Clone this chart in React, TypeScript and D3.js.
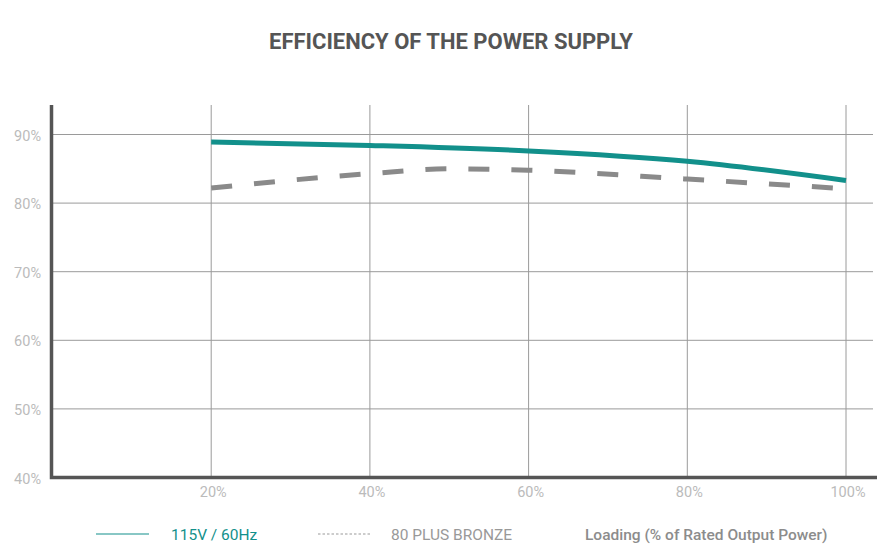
import * as d3 from "d3";
import React, { useRef, useEffect } from "react";

const mainWidth = 892;
const mainHeight = 554;

// readings (load % -> efficiency %)
const loadTicks = [20, 40, 60, 80, 100];
const effTicks = [40, 50, 60, 70, 80, 90];

const psuLoads = [20, 40, 60, 80, 100];
const psuEff = [88.9, 88.4, 87.6, 86.1, 83.3];

const bronzeLoads = [20, 40, 50, 60, 80, 100];
const bronzeEff = [82.2, 84.3, 85.0, 84.8, 83.5, 82.1];

const title = "EFFICIENCY OF THE POWER SUPPLY";
const psuLabel = "115V / 60Hz";
const bronzeLabel = "80 PLUS BRONZE";
const xTitle = "Loading (% of Rated Output Power)";

const teal = "#12908b";
const font = "Roboto, 'Noto Sans', sans-serif";

function App() {
  const ref = useRef<SVGSVGElement>(null);

  useEffect(() => {
    const svg = d3.select(ref.current);
    svg.selectAll("*").remove();

    const x = d3.scaleLinear().domain([0, 100]).range([52.5, 846]);
    const y = d3.scaleLinear().domain([40, 90]).range([477.5, 134.5]);
    const top = 105;

    svg
      .append("text")
      .attr("x", 451)
      .attr("y", 49)
      .attr("text-anchor", "middle")
      .attr("font-family", font)
      .attr("font-weight", 700)
      .attr("font-size", 22)
      .attr("fill", "#555")
      .text(title);

    // grid
    const grid = svg.append("g").attr("stroke", "#9a9a9a").attr("stroke-width", 1);
    grid
      .selectAll(".hgrid")
      .data(effTicks.slice(1))
      .join("line")
      .attr("x1", 52)
      .attr("x2", 873)
      .attr("y1", (d) => y(d))
      .attr("y2", (d) => y(d));
    grid
      .selectAll(".vgrid")
      .data(loadTicks)
      .join("line")
      .attr("x1", (d) => x(d))
      .attr("x2", (d) => x(d))
      .attr("y1", top)
      .attr("y2", y(40));

    // axes
    svg
      .append("path")
      .attr("d", `M51.5,${top}V${y(40)}H877`)
      .attr("fill", "none")
      .attr("stroke", "#555")
      .attr("stroke-width", 3.5);

    svg
      .append("g")
      .selectAll("text")
      .data(effTicks)
      .join("text")
      .attr("x", 41)
      .attr("y", (d) => y(d) + 1)
      .attr("dy", "0.35em")
      .attr("text-anchor", "end")
      .attr("font-family", font)
      .attr("font-size", 14.5)
      .attr("fill", "#bbb")
      .text((d) => `${d}%`);

    svg
      .append("g")
      .selectAll("text")
      .data(loadTicks)
      .join("text")
      .attr("x", (d) => x(d) + 2)
      .attr("y", 497)
      .attr("text-anchor", "middle")
      .attr("font-family", font)
      .attr("font-size", 14.5)
      .attr("fill", "#bbb")
      .text((d) => `${d}%`);

    const line = d3
      .line<number>()
      .curve(d3.curveMonotoneX);

    svg
      .append("path")
      .attr(
        "d",
        line.x((_, i) => x(bronzeLoads[i])).y((d) => y(d))(bronzeEff)
      )
      .attr("fill", "none")
      .attr("stroke", "#8a8a8a")
      .attr("stroke-width", 5)
      .attr("stroke-dasharray", "21 22");

    svg
      .append("path")
      .attr("d", line.x((_, i) => x(psuLoads[i])).y((d) => y(d))(psuEff))
      .attr("fill", "none")
      .attr("stroke", teal)
      .attr("stroke-width", 5);

    // legend
    const legend = svg.append("g").attr("font-family", font).attr("font-size", 15.5);
    legend
      .append("line")
      .attr("x1", 96)
      .attr("x2", 149)
      .attr("y1", 534)
      .attr("y2", 534)
      .attr("stroke", teal)
      .attr("stroke-width", 1.2);
    legend
      .append("text")
      .attr("x", 171)
      .attr("y", 539.5)
      .attr("fill", teal)
      .text(psuLabel);
    legend
      .append("line")
      .attr("x1", 318)
      .attr("x2", 371)
      .attr("y1", 534)
      .attr("y2", 534)
      .attr("stroke", "#999")
      .attr("stroke-width", 1)
      .attr("stroke-dasharray", "2.5 2");
    legend
      .append("text")
      .attr("x", 391)
      .attr("y", 539.5)
      .attr("fill", "#999")
      .text(bronzeLabel);
    legend
      .append("text")
      .attr("x", 585)
      .attr("y", 539.5)
      .attr("fill", "#8c8c8c")
      .attr("font-weight", 500)
      .text(xTitle);
  }, []);

  return (
    <svg
      ref={ref}
      width={mainWidth}
      height={mainHeight}
      style={{ position: "absolute", left: 0, top: 0, background: "#fff" }}
    />
  );
}

export default App;
